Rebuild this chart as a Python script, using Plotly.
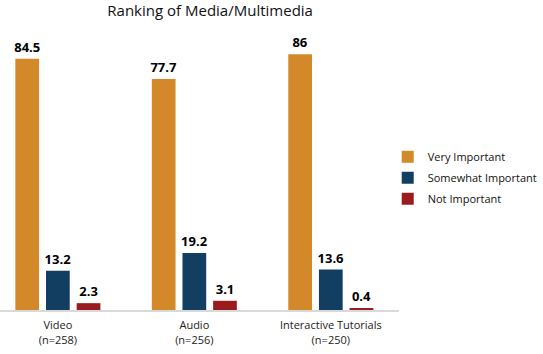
import plotly.graph_objects as go

categories = ["Video<br>(n=258)", "Audio<br>(n=256)", "Interactive Tutorials<br>(n=250)"]
very_important = [84.5, 77.7, 86]
somewhat_important = [13.2, 19.2, 13.6]
not_important = [2.3, 3.1, 0.4]

series = [
    ("Very Important", very_important, "#D3882A"),
    ("Somewhat Important", somewhat_important, "#123E62"),
    ("Not Important", not_important, "#9A1B1F"),
]

fig = go.Figure()
for name, vals, color in series:
    fig.add_trace(go.Bar(
        name=name, x=categories, y=vals, legendgroup=name,
        marker=dict(color=color, line=dict(width=0)),
        text=[f"{v:g}" for v in vals], textposition="outside",
        constraintext="none",
        textfont=dict(family="Open Sans", size=13, color="#000000", weight="bold"),
        cliponaxis=False, hoverinfo="skip",
    ))

fig.update_layout(
    width=543, height=354,
    margin=dict(l=0, r=0, t=40, b=44),
    paper_bgcolor="white", plot_bgcolor="white",
    barmode="group", bargap=0.326, bargroupgap=0.226,
    title=dict(text="Ranking of Media/Multimedia", x=0.387, xanchor="center",
               y=0.984, yanchor="top",
               font=dict(family="Open Sans", size=15, color="#111111")),
    font=dict(family="Open Sans", size=11, color="#222222"),
    showlegend=True,
    legend=dict(x=0.722, xanchor="left", y=0.49, yanchor="middle",
                font=dict(size=11, color="#111111"), tracegroupgap=2,
                traceorder="grouped", itemwidth=30),
    xaxis=dict(domain=[0, 403.5 / 543], range=[-0.424, 2.5], showline=True,
               linecolor="#D9D9D9", linewidth=2, ticks="", showgrid=False,
               ticklabelstandoff=4, tickfont=dict(size=11, color="#222222")),
    yaxis=dict(range=[0, 90.8], visible=False, showgrid=False),
)

fig.write_html("out.html")
